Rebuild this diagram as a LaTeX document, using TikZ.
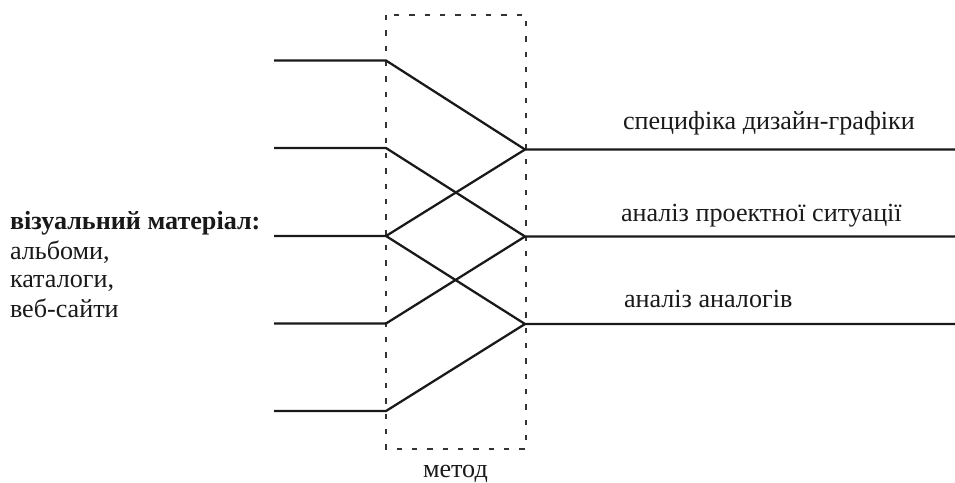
\documentclass[tikz,border=0pt]{standalone}
\usepackage{fontspec}
\setmainfont{Liberation Serif}
\tikzset{px/.style={x=0.75pt,y=-0.75pt},
 ln/.style={line width=1.7pt,black!90},
 dot/.style={line width=2pt,black!80,dash pattern=on 4pt off 7.5pt},
 lab/.style={font=\fontsize{19.6pt}{23pt}\selectfont,anchor=base west,inner sep=0pt,outer sep=0pt,text=black!90}}
\begin{document}
\begin{tikzpicture}[px]
\useasboundingbox (0,0) rectangle (955,482);
\coordinate (L1) at (274,60.5);\coordinate (L2) at (274,148);\coordinate (L3) at (274,236);\coordinate (L4) at (274,323.5);\coordinate (L5) at (274,411);
\coordinate (M1) at (386,60.5);\coordinate (M2) at (386,148);\coordinate (M3) at (386,236);\coordinate (M4) at (386,323.5);\coordinate (M5) at (386,411);
\coordinate (R1) at (525,149.5);\coordinate (R2) at (525,236.5);\coordinate (R3) at (525,324);
\coordinate (E1) at (955,149.5);\coordinate (E2) at (955,236.5);\coordinate (E3) at (955,324);
\draw[dot] (386,15) rectangle (526,449);
\draw[ln] (L1)--(M1)--(R1)--(E1);
\draw[ln] (L2)--(M2)--(R2)--(E2);
\draw[ln] (L3)--(M3)--(R3)--(E3);
\draw[ln] (L4)--(M4)--(R2);
\draw[ln] (L5)--(M5)--(R3);
\draw[ln] (M3)--(R1);
\node[lab] (a) at (623,129) {специфіка дизайн-графіки};
\node[lab] (b) at (621,221) {аналіз проектної ситуації};
\node[lab] (c) at (624,307) {аналіз аналогів};
\node[lab] (d) at (423,477) {метод};
\node[lab] (e) at (10,229) {\textbf{візуальний матеріал:}};
\node[lab] (f) at (10,259) {альбоми,};
\node[lab] (g) at (10,287) {каталоги,};
\node[lab] (h) at (10,317) {веб-сайти};
\end{tikzpicture}
\end{document}
